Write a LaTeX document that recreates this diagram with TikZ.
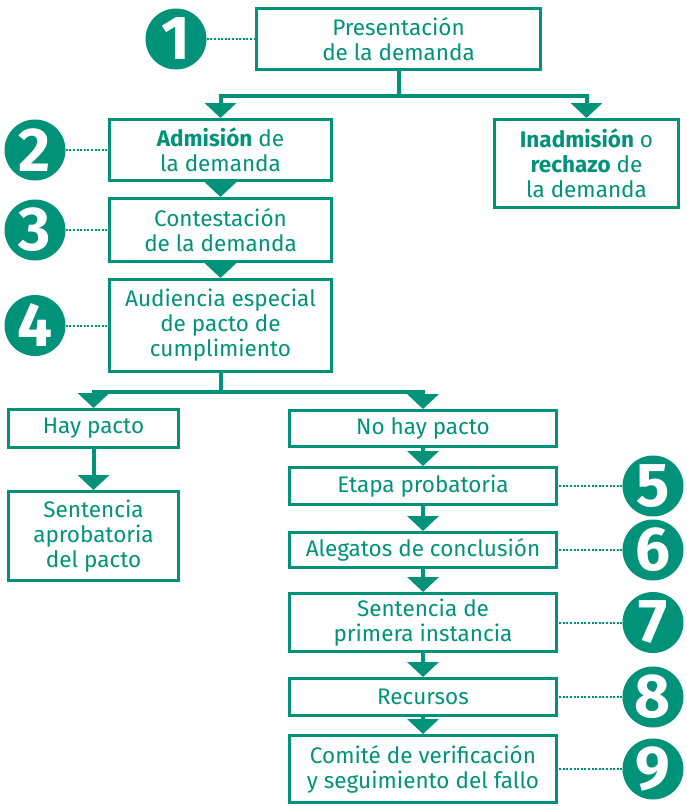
\documentclass[tikz,border=0pt]{standalone}
\usepackage{fontspec}
\setmainfont{Fira Sans}
\usetikzlibrary{arrows.meta}
\definecolor{teal1}{RGB}{0,147,122}
\begin{document}
\begin{tikzpicture}[x=1pt,y=-1pt,
  box/.style={draw=teal1, line width=3pt, text=teal1, align=center,
    font=\fontsize{22.5}{25}\selectfont, inner sep=0pt},
  num/.style={circle, fill=teal1, minimum size=61pt, inner sep=0pt, text=white,
    font=\fontsize{62}{62}\selectfont\bfseries},
  conn/.style={draw=teal1, line width=4pt},
  tip/.style={-{Triangle[width=31pt,length=15pt]}},
  dots/.style={draw=teal1, line width=2pt, dash pattern=on 2pt off 1.6pt}
]
\useasboundingbox (0,0) rectangle (686,806);

% boxes
\node[box, minimum width=284, minimum height=61] (b1) at (398.5,39) {Presentación\\de la demanda};
\node[box, minimum width=222, minimum height=61] (b2) at (220.5,150) {\textbf{Admisión} de\\la demanda};
\node[box, minimum width=184, minimum height=88] (inad) at (586.5,163.5) {\textbf{Inadmisión} o\\\textbf{rechazo} de\\la demanda};
\node[box, minimum width=222, minimum height=63] (b3) at (220.5,230) {Contestación\\de la demanda};
\node[box, minimum width=222, minimum height=92] (b4) at (220.5,325.5) {Audiencia especial\\de pacto de\\cumplimiento};
\node[box, minimum width=170, minimum height=38] (hay) at (93.5,428.5) {Hay pacto};
\node[box, minimum width=170, minimum height=89] (sentap) at (93.5,536) {Sentencia\\aprobatoria\\del pacto};
\node[box, minimum width=267, minimum height=36] (nohay) at (423,428.5) {No hay pacto};
\node[box, minimum width=267, minimum height=37] (etapa) at (423,486) {Etapa probatoria};
\node[box, minimum width=267, minimum height=35] (aleg) at (423,550) {Alegatos de conclusión};
\node[box, minimum width=267, minimum height=58] (sentpi) at (423,622.5) {Sentencia de\\primera instancia};
\node[box, minimum width=267, minimum height=37] (recur) at (423,697) {Recursos};
\node[box, minimum width=267, minimum height=67] (comite) at (423,769) {Comité de verificación\\y seguimiento del fallo};

% number circles
\node[num] (c1) at (176,39) {1};
\node[num] (c2) at (35,150) {2};
\node[num] (c3) at (35,230) {3};
\node[num] (c4) at (35,325.5) {4};
\node[num] (c5) at (653,486) {5};
\node[num] (c6) at (653,550) {6};
\node[num] (c7) at (653,622.5) {7};
\node[num] (c8) at (653,697) {8};
\node[num] (c9) at (653,769) {9};

% dotted leaders
\draw[dots] (c1.east) -- (c1.east -| b1.west);
\draw[dots] (c2.east) -- (c2.east -| b2.west);
\draw[dots] (c3.east) -- (c3.east -| b3.west);
\draw[dots] (c4.east) -- (c4.east -| b4.west);
\draw[dots] (c5.west) -- (c5.west -| etapa.east);
\draw[dots] (c6.west) -- (c6.west -| aleg.east);
\draw[dots] (c7.west) -- (c7.west -| sentpi.east);
\draw[dots] (c8.west) -- (c8.west -| recur.east);
\draw[dots] (c9.west) -- (c9.west -| comite.east);

% connectors
\draw[conn] (b1.south) -- ++(0,25) coordinate (j1);
\draw[conn,tip] (j1) -| (b2.north);
\draw[conn,tip] (j1) -| (inad.north);
\draw[conn,tip] (b2.south) -- (b3.north);
\draw[conn,tip] (b3.south) -- (b4.north);
\draw[conn] (b4.south) -- ++(0,19) coordinate (j2);
\draw[conn,tip] (j2) -| (hay.north);
\draw[conn,tip] (j2) -| (nohay.north);
\draw[conn,tip] (hay.south) -- (sentap.north);
\draw[conn,tip] (nohay.south) -- (etapa.north);
\draw[conn,tip] (etapa.south) -- (aleg.north);
\draw[conn,tip] (aleg.south) -- (sentpi.north);
\draw[conn,tip] (sentpi.south) -- (recur.north);
\draw[conn,tip] (recur.south) -- (comite.north);
\end{tikzpicture}
\end{document}
